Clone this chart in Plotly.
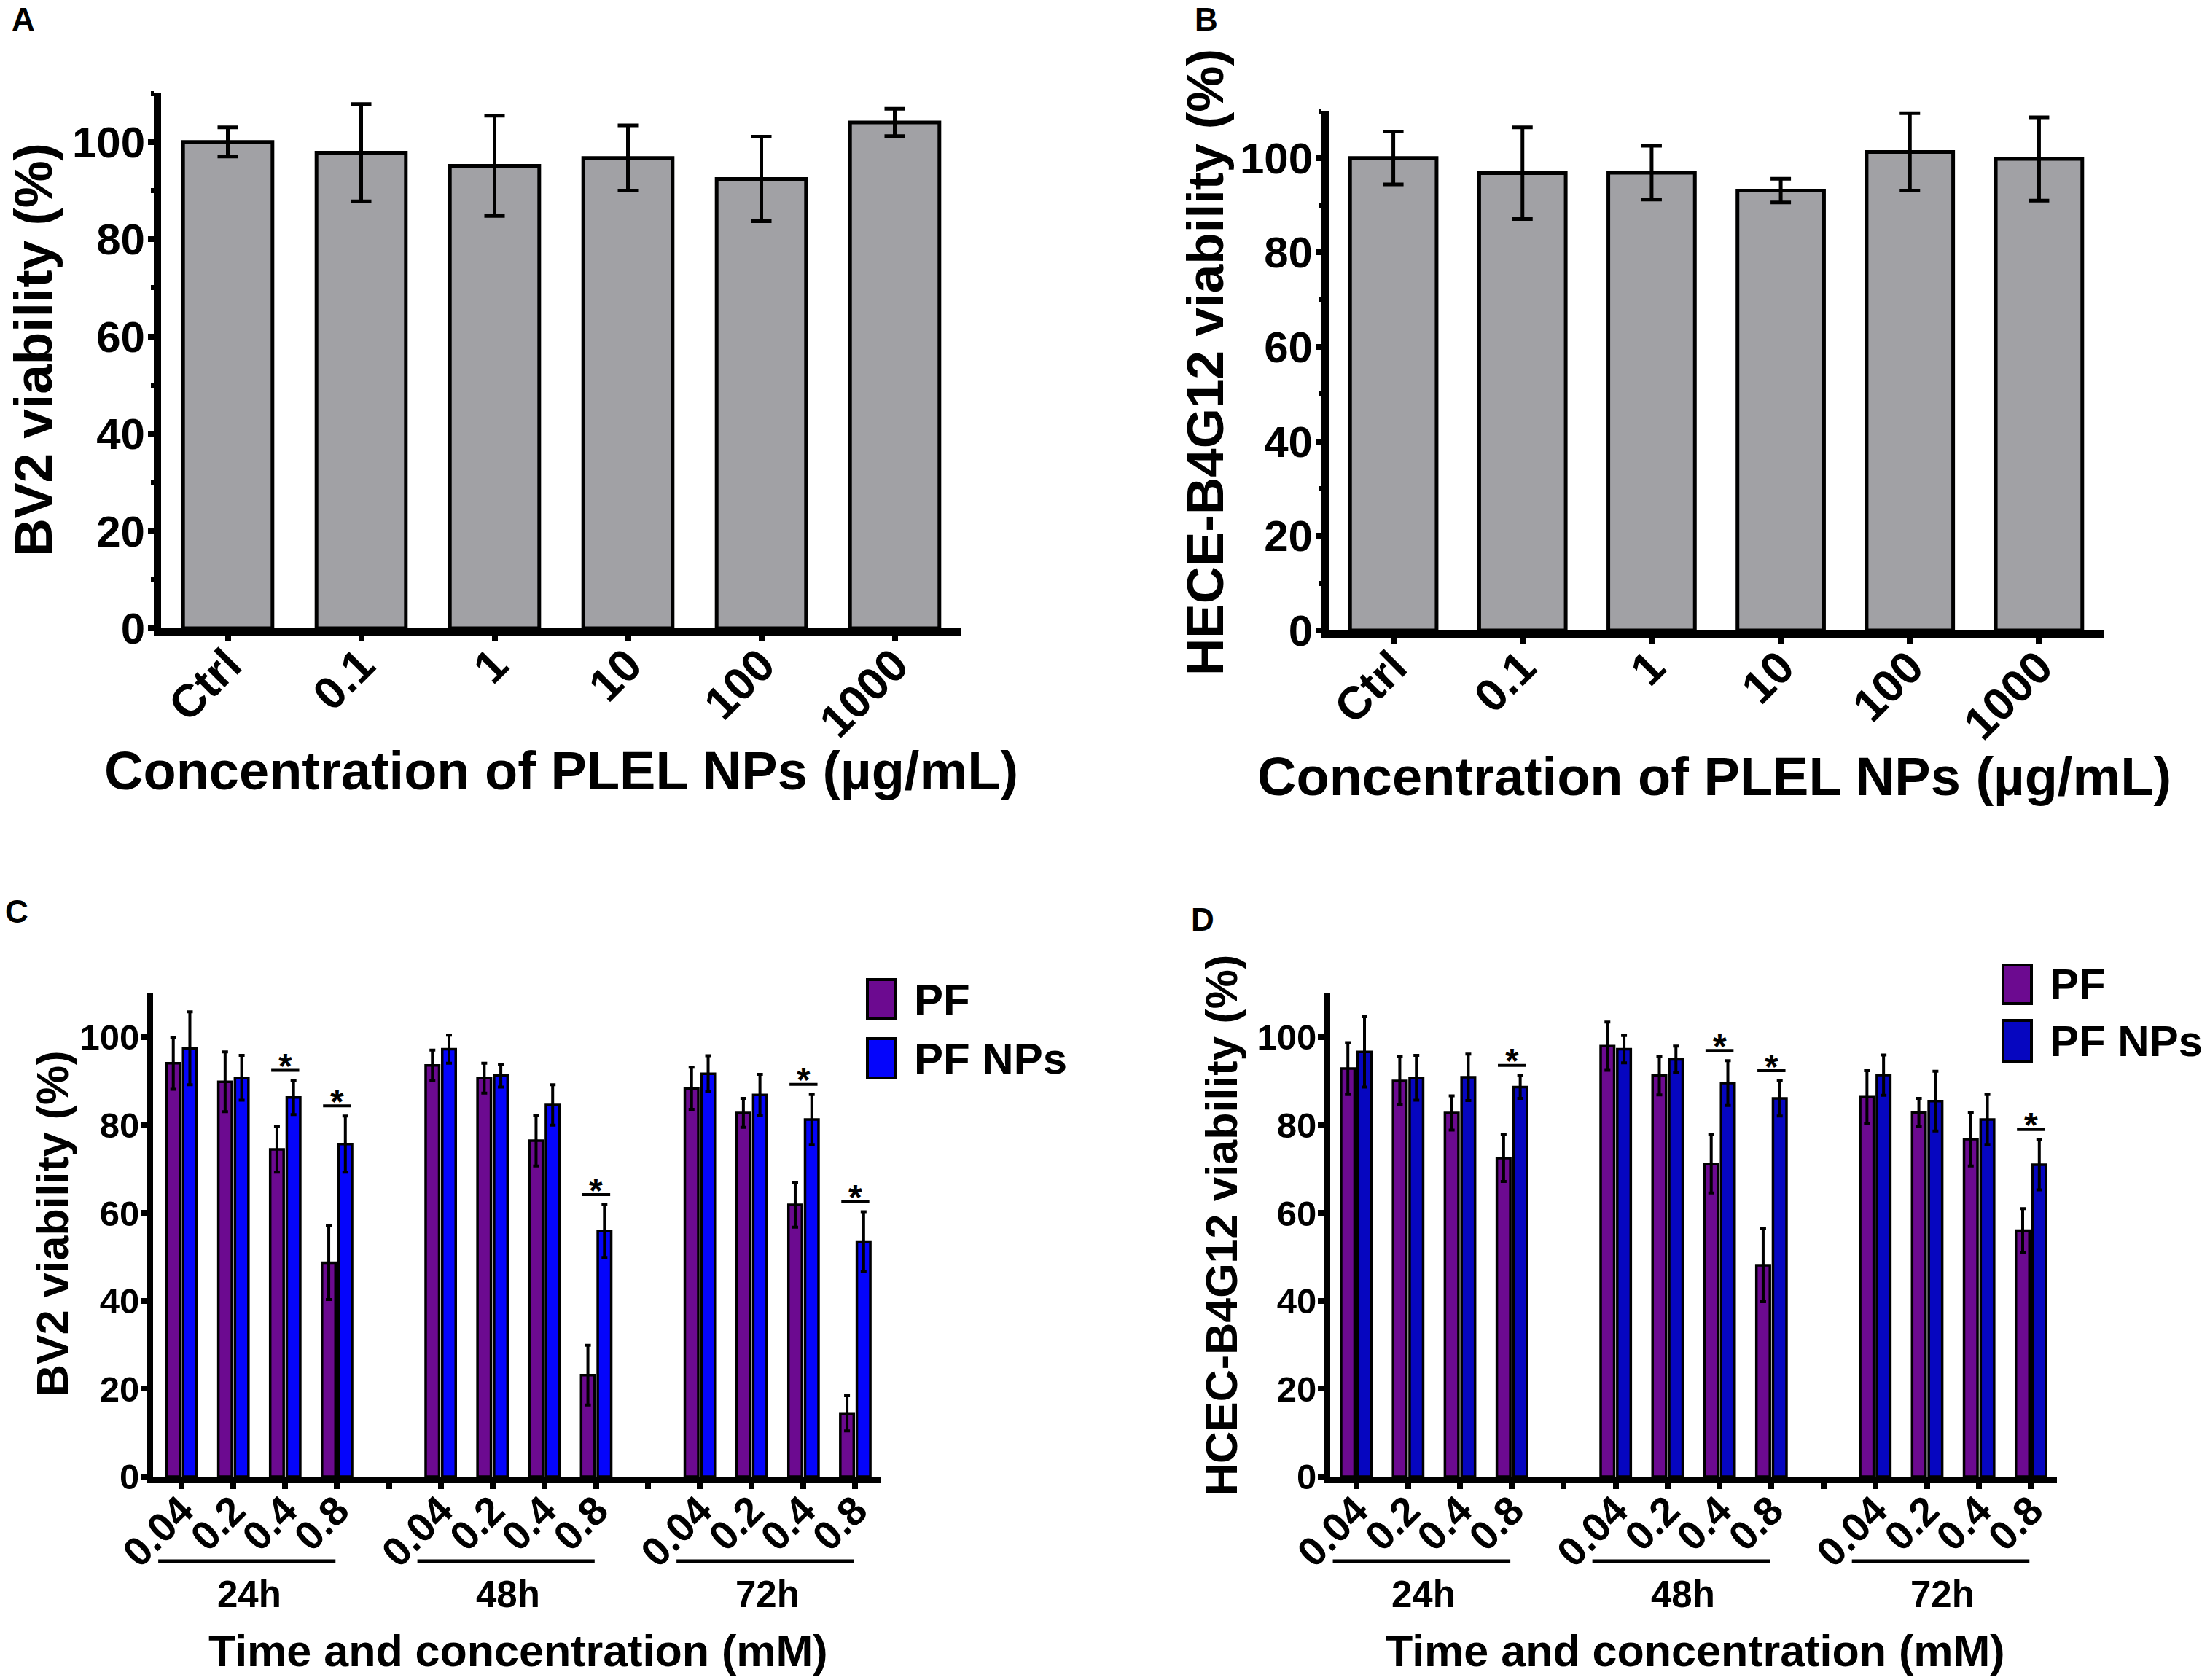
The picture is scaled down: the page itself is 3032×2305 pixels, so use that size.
import plotly.graph_objects as go

W, H = 3032, 2305
FONT = "Liberation Sans, Arial, sans-serif"

# ---- data, panels A and B ----
conc_plel = ["Ctrl", "0.1", "1", "10", "100", "1000"]
bv2_plel = [100.0, 97.8, 95.1, 96.7, 92.4, 104.0]
bv2_plel_err = [3.0, 10.0, 10.3, 6.7, 8.7, 2.8]
hece_plel = [100.0, 96.8, 96.9, 93.1, 101.3, 99.8]
hece_plel_err = [5.6, 9.7, 5.7, 2.5, 8.2, 8.8]

# ---- data, panels C and D ----
times = ["24h", "48h", "72h"]
conc_pf = ["0.04", "0.2", "0.4", "0.8"]
bv2_pf = [94.1, 89.9, 74.5, 48.7, 93.6, 90.7, 76.5, 23.1, 88.4, 82.8, 61.9, 14.4]
bv2_pf_err = [5.9, 6.8, 5.2, 8.4, 3.5, 3.4, 5.8, 6.8, 4.8, 3.3, 5.1, 4.0]
bv2_np = [97.5, 90.8, 86.3, 75.7, 97.3, 91.3, 84.6, 55.9, 91.7, 86.9, 81.3, 53.5]
bv2_np_err = [8.3, 5.1, 3.9, 6.4, 3.2, 2.6, 4.6, 6.0, 4.1, 4.7, 5.7, 6.8]
bv2_sig = [2, 3, 7, 10, 11]
hcec_pf = [92.9, 90.1, 82.8, 72.5, 98.0, 91.3, 71.2, 48.1, 86.4, 82.9, 76.8, 56.0]
hcec_pf_err = [5.9, 5.5, 3.9, 5.3, 5.5, 4.4, 6.6, 8.3, 6.0, 3.2, 6.1, 5.0]
hcec_np = [96.7, 90.8, 90.9, 88.7, 97.3, 95.0, 89.6, 86.1, 91.4, 85.5, 81.3, 71.0]
hcec_np_err = [8.0, 5.1, 5.3, 2.6, 3.1, 3.0, 5.1, 4.0, 4.6, 6.8, 5.7, 5.7]
hcec_sig = [3, 6, 7, 11]

GRAY = "#a1a1a5"
PURPLE = "#6c0a90"
BLUE_C = "#0505fb"
BLUE_D = "#0606c0"

# x positions: 4 concentrations per time, one empty slot between times
pos = [5 * g + j for g in range(len(times)) for j in range(len(conc_pf))]
tickvals_cd = list(range(5 * len(times) - 1))
ticktext_cd = [conc_pf[v % 5] if v % 5 < 4 else "" for v in tickvals_cd]

fig = go.Figure()

# A and B
for vals, errs, ax in [(bv2_plel, bv2_plel_err, ""), (hece_plel, hece_plel_err, "2")]:
    fig.add_trace(go.Bar(
        x=list(range(len(conc_plel))), y=vals, width=0.67,
        marker=dict(color=GRAY, line=dict(color="black", width=5)),
        error_y=dict(type="data", array=errs, color="black", thickness=5, width=14),
        xaxis="x" + ax, yaxis="y" + ax, showlegend=False,
    ))

# C and D
panels_cd = [
    (bv2_pf, bv2_pf_err, bv2_np, bv2_np_err, BLUE_C, "3"),
    (hcec_pf, hcec_pf_err, hcec_np, hcec_np_err, BLUE_D, "4"),
]
for pf, pf_e, np_, np_e, blue, ax in panels_cd:
    fig.add_trace(go.Bar(
        x=pos, y=pf, offset=-0.29, width=0.26, name="PF",
        marker=dict(color=PURPLE, line=dict(color="black", width=3.5)),
        error_y=dict(type="data", array=pf_e, color="black", thickness=4, width=4),
        xaxis="x" + ax, yaxis="y" + ax, showlegend=False,
    ))
    fig.add_trace(go.Bar(
        x=pos, y=np_, offset=0.03, width=0.26, name="PF NPs",
        marker=dict(color=blue, line=dict(color="black", width=3.5)),
        error_y=dict(type="data", array=np_e, color="black", thickness=4, width=4),
        xaxis="x" + ax, yaxis="y" + ax, showlegend=False,
    ))

def tfont(size):
    return dict(family=FONT, size=size, color="black", weight="bold")

def yax(domain, size, lw, minor, anchor):
    d = dict(domain=domain, range=[0, 110], tickvals=[0, 20, 40, 60, 80, 100],
             showgrid=False, zeroline=False, showline=True, linecolor="black",
             linewidth=lw, ticks="outside", ticklen=8, tickwidth=8, tickcolor="black",
             tickfont=tfont(size), anchor=anchor, automargin=False, ticklabelstandoff=-8)
    if minor:
        d["minor"] = dict(dtick=10, ticks="outside", ticklen=4, tickwidth=7, tickcolor="black")
    return d

def xax(domain, rng, tickvals, ticktext, size, lw, anchor, standoff):
    return dict(domain=domain, range=rng, tickvals=tickvals, ticktext=ticktext,
                tickangle=-45, showgrid=False, zeroline=False, showline=True,
                linecolor="black", linewidth=lw, ticks="outside", ticklen=8,
                tickwidth=8, tickcolor="black", tickfont=tfont(size), anchor=anchor,
                automargin=False, ticklabelstandoff=standoff)

fig.update_layout(
    width=W, height=H, plot_bgcolor="white", paper_bgcolor="white",
    margin=dict(l=0, r=0, t=0, b=0, autoexpand=False), barmode="overlay",
    xaxis=xax([221 / W, 1319 / W], [-0.5, 5.5], list(range(6)), conc_plel, 63, 10, "y", -30),
    yaxis=yax([1 - 862 / H, 1 - 128 / H], 60, 10, True, "x"),
    xaxis2=xax([1823 / W, 2886 / W], [-0.5, 5.5], list(range(6)), conc_plel, 63, 10, "y2", -30),
    yaxis2=yax([1 - 865 / H, 1 - 152 / H], 60, 10, True, "x2"),
    xaxis3=xax([210 / W, 1209 / W], [-0.55, 13.5], tickvals_cd, ticktext_cd, 56, 9, "y3", -26),
    yaxis3=yax([1 - 2026 / H, 1 - 1363 / H], 49, 9, False, "x3"),
    xaxis4=xax([1825 / W, 2822 / W], [-0.5, 13.5], tickvals_cd, ticktext_cd, 56, 9, "y4", -26),
    yaxis4=yax([1 - 2026 / H, 1 - 1363 / H], 49, 9, False, "x4"),
)

ann = []
shapes = []

def txt(x, y, s, size, xanchor="center", yanchor="middle", angle=0, xref="paper", yref="paper", yshift=0):
    ann.append(dict(x=x, y=y, text=s, showarrow=False, xref=xref, yref=yref,
                    xanchor=xanchor, yanchor=yanchor, textangle=angle, yshift=yshift,
                    font=tfont(size)))

# panel letters
txt(14 / W, 1.0, "A", 44, "left", "top")
txt(1637 / W, 1.0, "B", 44, "left", "top")
txt(5 / W, 1 - 1224 / H, "C", 44, "left", "top")
txt(1632 / W, 1 - 1235 / H, "D", 44, "left", "top")

# axis titles
txt(46 / W, 1 - 480 / H, "BV2 viability (%)", 73, angle=-90)
txt(1654 / W, 1 - 497 / H, "HECE-B4G12 viability (%)", 71, angle=-90)
txt(72 / W, 1 - 1679 / H, "BV2 viability (%)", 61, angle=-90)
txt(1676 / W, 1 - 1681 / H, "HCEC-B4G12 viability (%)", 61, angle=-90)
txt(770 / W, 1 - 1058 / H, "Concentration of PLEL NPs (µg/mL)", 74)
txt(2352 / W, 1 - 1065 / H, "Concentration of PLEL NPs (µg/mL)", 74)
txt(711 / W, 1 - 2265 / H, "Time and concentration (mM)", 61)
txt(2326 / W, 1 - 2265 / H, "Time and concentration (mM)", 61)

# time groups, significance and legends for C and D
legend_c = dict(box_x=(1190, 1229), rows=[(1344, 1398), (1425, 1479)], text_x=1252)
legend_d = dict(box_x=(2748, 2787), rows=[(1324, 1377), (1400, 1456)], text_x=2810)
for (pf, pf_e, np_, np_e, blue, ax), sig, leg in zip(panels_cd, [bv2_sig, hcec_sig], [legend_c, legend_d]):
    xr = "x" + ax
    for g, t in enumerate(times):
        first = 5 * g
        shapes.append(dict(type="line", xref=xr, yref="paper", x0=first - 0.45, x1=first + 2.97,
                           y0=1 - 2142 / H, y1=1 - 2142 / H, line=dict(color="black", width=5)))
        txt(first + 1.3, 1 - 2187 / H, t, 51, xref=xr)
    for i in sig:
        top = max(pf[i] + pf_e[i], np_[i] + np_e[i]) + 2.3
        shapes.append(dict(type="line", xref=xr, yref="y" + ax, x0=pos[i] - 0.27, x1=pos[i] + 0.27,
                           y0=top, y1=top, line=dict(color="black", width=4)))
        txt(pos[i], top, "*", 48, yanchor="middle", xref=xr, yref="y" + ax, yshift=6)
    for (y0, y1), col, name in zip(leg["rows"], [PURPLE, blue], ["PF", "PF NPs"]):
        shapes.append(dict(type="rect", xref="paper", yref="paper",
                           x0=leg["box_x"][0] / W, x1=leg["box_x"][1] / W,
                           y0=1 - y1 / H, y1=1 - y0 / H, fillcolor=col,
                           line=dict(color="black", width=4)))
        txt(leg["text_x"] / W, 1 - (y0 + y1) / 2 / H, name, 60, xanchor="left")

fig.update_layout(annotations=ann, shapes=shapes)
# the page's default body margin would push the figure out of the window
fig.write_html("out.html", config={"displayModeBar": False},
               post_script="document.body.style.margin='0px';")
